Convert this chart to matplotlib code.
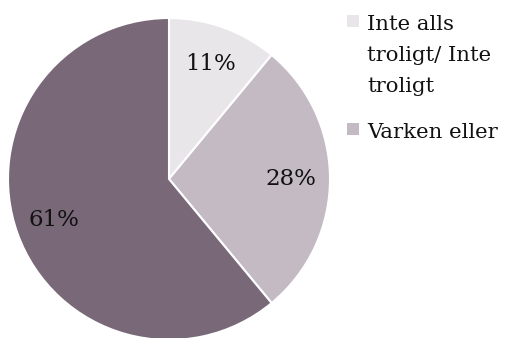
import matplotlib
matplotlib.use("Agg")
import matplotlib.pyplot as plt
from matplotlib.patches import Rectangle

categories = ["Inte alls\ntroligt/ Inte\ntroligt", "Varken eller", "Troligt/ Mycket troligt"]
values = [11, 28, 61]
colors = ["#E9E6EA", "#C3BAC4", "#786878"]
legend_shown = 2  # entries that fit beside the pie

plt.rcParams["font.family"] = ["DejaVu Serif"]

W, H = 508, 338
fig = plt.figure(figsize=(W / 100, H / 100), dpi=100)

# pie centre and radius in pixels
cx, cy, r = 169, 179, 161
ax = fig.add_axes([(cx - r) / W, (H - cy - r) / H, 2 * r / W, 2 * r / H])

wedges, texts, autotexts = ax.pie(
    values,
    colors=colors,
    startangle=90,
    counterclock=False,
    autopct=lambda p: f"{p:.0f}%",
    pctdistance=0.76,
    wedgeprops=dict(edgecolor="white", linewidth=1.5),
    textprops=dict(fontsize=16.5, color="#111111"),
)
ax.set_xlim(-1, 1)
ax.set_ylim(-1, 1)
ax.set_aspect("equal")


def px(x, y):
    return x / W, 1 - y / H


# legend: square swatch plus wrapped label lines
line_pitch = 31
entry_gap = 46
baseline = 30
for label, color in zip(categories[:legend_shown], colors[:legend_shown]):
    sx, sy = px(347, baseline - 3)
    fig.patches.append(Rectangle((sx, sy), 12 / W, 12 / H, transform=fig.transFigure,
                                 facecolor=color, edgecolor="none"))
    lines = label.split("\n")
    for i, line in enumerate(lines):
        tx, ty = px(367, baseline + i * line_pitch)
        fig.text(tx, ty, line, fontsize=15.3, color="#111111", va="baseline", ha="left")
    baseline += (len(lines) - 1) * line_pitch + entry_gap

fig.savefig("out.png", dpi=100)
